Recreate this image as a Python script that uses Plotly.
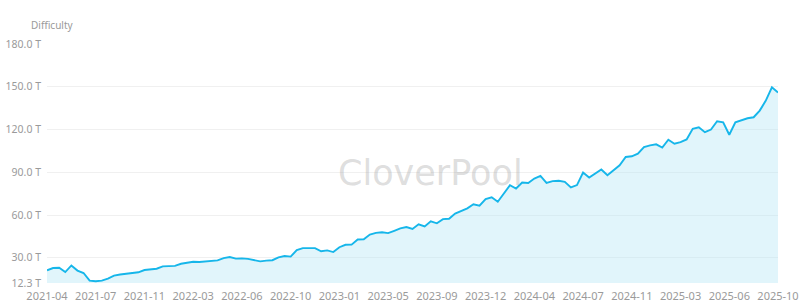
import plotly.graph_objects as go

# Bitcoin network difficulty (T), one value per ~2-week adjustment
difficulty = [
    21.2, 22.8, 23.0, 20.0, 24.6, 21.0, 19.3, 14.0, 13.5, 14.0,
    15.4, 17.5, 18.3, 18.9, 19.4, 19.8, 21.4, 21.6, 22.3, 24.0,
    24.3, 24.3, 25.8, 26.7, 27.2, 27.0, 27.4, 28.1, 28.2, 29.8,
    30.5, 29.4, 29.6, 29.2, 28.6, 27.5, 28.0, 28.3, 30.3, 31.2,
    30.8, 35.4, 36.8, 36.8, 36.8, 34.6, 35.2, 34.0, 37.4, 39.1,
    39.2, 42.8, 43.0, 46.3, 47.5, 47.9, 47.3, 48.9, 50.6, 51.6,
    50.2, 53.5, 52.0, 55.6, 54.2, 57.1, 57.4, 61.0, 62.8, 64.7,
    67.5, 66.5, 71.2, 72.4, 69.3, 75.2, 80.9, 78.6, 82.8, 82.5,
    85.6, 87.4, 82.6, 83.8, 84.0, 83.3, 79.4, 81.0, 89.8, 86.3,
    89.1, 91.9, 87.9, 91.4, 94.9, 100.7, 101.2, 103.1, 107.7, 108.9,
    109.6, 107.3, 112.8, 110.0, 111.2, 113.0, 120.5, 121.6, 118.1, 120.0,
    125.8, 125.1, 116.3, 125.1, 126.5, 127.9, 128.6, 133.3, 140.3, 149.6,
    146.0,
]
x_index = list(range(len(difficulty)))

x_tick_labels = [
    "2021-04", "2021-07", "2021-11", "2022-03", "2022-06", "2022-10",
    "2023-01", "2023-05", "2023-09", "2023-12", "2024-04", "2024-07",
    "2024-11", "2025-03", "2025-06", "2025-10",
]
x_tick_step = 8
y_tick_values = [12.3, 30, 60, 90, 120, 150, 180]

FONT = "Noto Sans, Open Sans, sans-serif"
LABEL = "#9a9a9a"

fig = go.Figure()
fig.add_trace(go.Scatter(
    x=x_index, y=difficulty, mode="lines",
    line=dict(color="#16b6ea", width=1.9),
    fill="tozeroy", fillcolor="rgba(180,230,244,0.40)",
    hoverinfo="y",
))

fig.update_layout(
    width=800, height=305,
    margin=dict(l=47, r=22, t=44, b=22),
    paper_bgcolor="white", plot_bgcolor="white",
    showlegend=False,
    font=dict(family=FONT, size=11, color=LABEL),
    xaxis=dict(
        range=[0, len(difficulty) - 1],
        tickmode="array",
        tickvals=[i * x_tick_step for i in range(len(x_tick_labels))],
        ticktext=x_tick_labels,
        showgrid=False, zeroline=False, showline=False,
        ticks="", ticklen=0, ticklabelstandoff=5, automargin=False,
        tickfont=dict(size=11, color=LABEL),
    ),
    yaxis=dict(
        range=[12.3, 180],
        tickmode="array",
        tickvals=y_tick_values,
        ticktext=[f"{v:.1f} T" for v in y_tick_values],
        showgrid=True, gridcolor="#f0f0f0", gridwidth=1,
        zeroline=False, showline=False, ticks="", automargin=False,
        ticklabelstandoff=5,
        tickfont=dict(size=10.5, color=LABEL),
    ),
    annotations=[
        dict(text="Difficulty", xref="paper", yref="paper",
             x=-0.024, y=1.081, xanchor="left", yanchor="middle",
             showarrow=False, font=dict(size=10, color=LABEL, family=FONT)),
        dict(text="CloverPool", xref="paper", yref="paper",
             x=0.524, y=0.459, xanchor="center", yanchor="middle",
             showarrow=False,
             font=dict(size=35, color="rgba(170,170,170,0.40)", family="DejaVu Sans")),
    ],
)

fig.write_html("out.html")
